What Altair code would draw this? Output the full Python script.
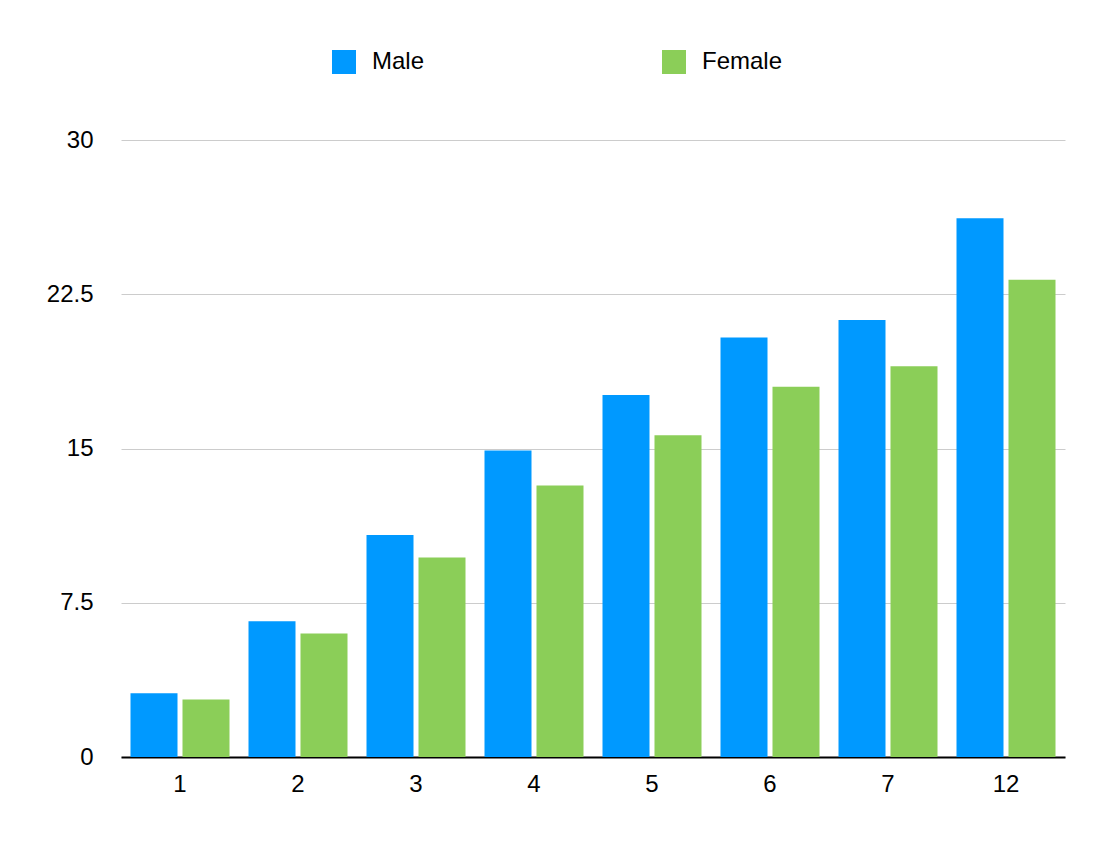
import altair as alt
import pandas as pd

groups = ["1", "2", "3", "4", "5", "6", "7", "12"]
male = [3.1, 6.6, 10.8, 14.9, 17.6, 20.4, 21.25, 26.2]
female = [2.8, 6.0, 9.7, 13.2, 15.65, 18.0, 19.0, 23.2]
series = ["Male", "Female"]
colors = ["#0099ff", "#8bce58"]
y_ticks = [0, 7.5, 15, 22.5, 30]

rows = []
for g, m, f in zip(groups, male, female):
    rows.append({"group": g, "series": "Male", "value": m})
    rows.append({"group": g, "series": "Female", "value": f})
df = pd.DataFrame(rows)

FONT = "Liberation Sans"

chart = alt.Chart(df).mark_bar().encode(
    x=alt.X("group:N", sort=groups, title=None,
            scale=alt.Scale(paddingInner=0.161, paddingOuter=0.0805),
            axis=alt.Axis(labelAngle=0, ticks=False, domain=True, domainColor="#000000",
                          domainWidth=2, labelFontSize=24, labelFont=FONT,
                          labelColor="#000000", labelPadding=15, grid=False)),
    xOffset=alt.XOffset("series:N", sort=series,
                        scale=alt.Scale(paddingInner=0.096, paddingOuter=0)),
    y=alt.Y("value:Q", title=None,
            scale=alt.Scale(domain=[0, 30], nice=False, zero=True),
            axis=alt.Axis(values=y_ticks, format=".1~f", ticks=False, domain=False, grid=True,
                          gridColor="#cccccc", gridWidth=1, labelFontSize=24,
                          labelFont=FONT, labelColor="#000000", labelPadding=28)),
    color=alt.Color("series:N", sort=series,
                    scale=alt.Scale(domain=series, range=colors),
                    legend=alt.Legend(title=None, orient="none", legendX=211, legendY=-90,
                                      direction="horizontal", columns=2,
                                      symbolType="square", symbolSize=576,
                                      symbolStrokeWidth=0, labelFontSize=24,
                                      labelFont=FONT, labelColor="#000000",
                                      labelOffset=16, columnPadding=237)),
).properties(
    width=944,
    height=617,
    padding={"left": 113, "top": 132, "right": 40, "bottom": 70},
    autosize=alt.AutoSizeParams(type="none"),
    background="#ffffff",
).configure_view(stroke=None)

chart.save("out.html", embed_options={"renderer": "svg", "actions": False})
